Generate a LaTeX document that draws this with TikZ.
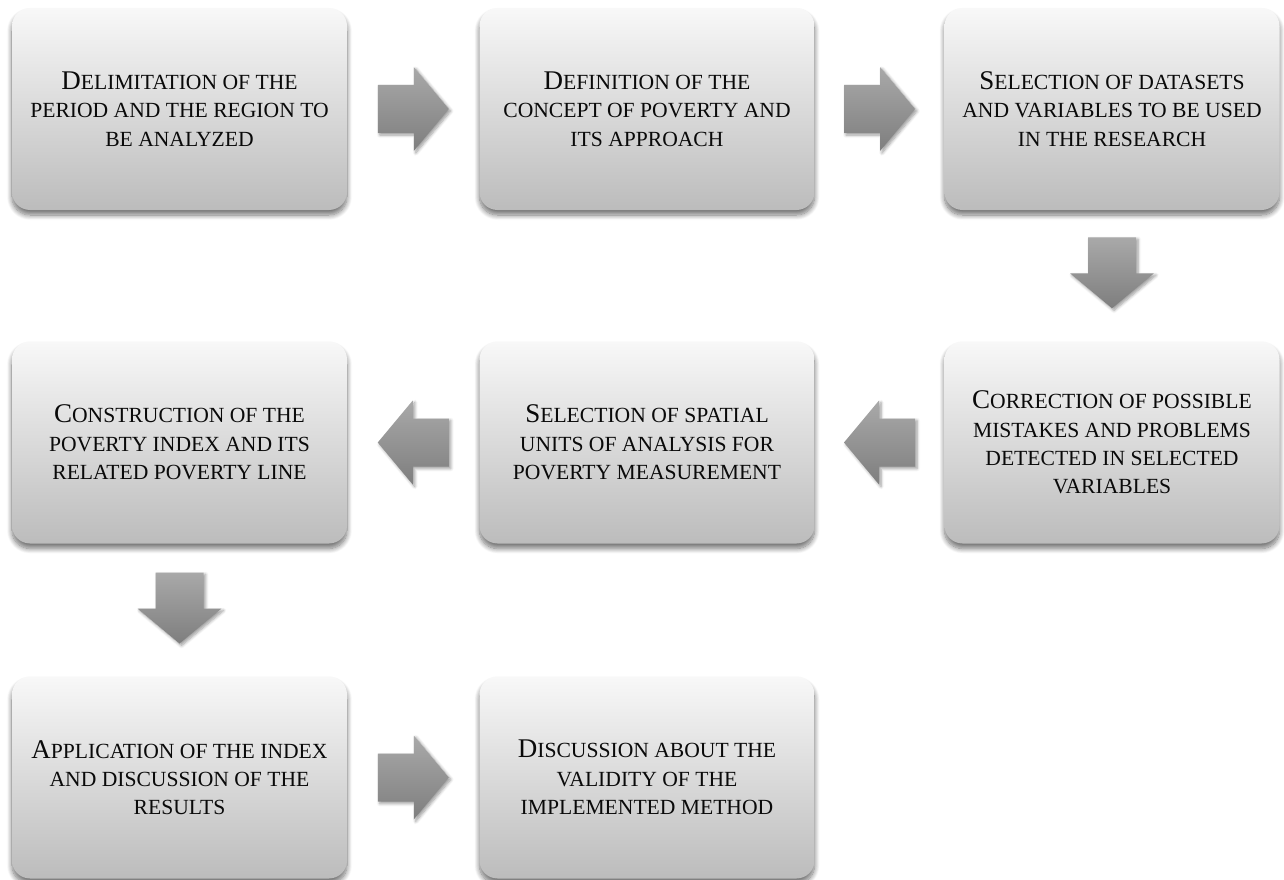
\documentclass[tikz,border=0pt]{standalone}
\usepackage{fontspec}
\setmainfont{Liberation Serif}
\usetikzlibrary{shadows.blur,calc}
\definecolor{boxtop}{HTML}{F8F8F8}
\definecolor{boxbot}{HTML}{BCBCBC}
\definecolor{arrtop}{HTML}{A9A9A9}
\definecolor{arrbot}{HTML}{7E7E7E}
\definecolor{txt}{HTML}{0A0A0A}
\newcommand\Bg[1]{{\fontsize{27}{28.3}\selectfont #1}}
\newcommand\Sm[1]{{\fontsize{21.6}{28.3}\selectfont #1}}
\tikzset{
  stepbox/.style={rounded corners=18pt, minimum width=335pt, minimum height=202pt,
    inner sep=0pt, top color=boxtop, bottom color=boxbot, draw=none,
    align=center, text=txt, font=\fontsize{21.6}{28.3}\selectfont,
    blur shadow={shadow xshift=0pt, shadow yshift=-5pt, shadow blur radius=5pt, shadow blur steps=10, shadow opacity=55}},
  blockarrow/.style={top color=arrtop, bottom color=arrbot, draw=none,
    blur shadow={shadow xshift=2pt, shadow yshift=-2pt, shadow blur radius=3pt, shadow blur steps=6, shadow opacity=40}}
}
\newcommand\RightArrow[1]{\path[blockarrow, shift={(#1)}] (-35.5,-24) -- (0.5,-24) -- (0.5,-42) -- (35.5,0) -- (0.5,42) -- (0.5,24) -- (-35.5,24) -- cycle;}
\newcommand\LeftArrow[1]{\path[blockarrow, shift={(#1)}] (35.5,-24) -- (-0.5,-24) -- (-0.5,-42) -- (-35.5,0) -- (-0.5,42) -- (-0.5,24) -- (35.5,24) -- cycle;}
\newcommand\DownArrow[1]{\path[blockarrow, shift={(#1)}] (-24,-35.5) -- (-24,0.5) -- (-42,0.5) -- (0,35.5) -- (42,0.5) -- (24,0.5) -- (24,-35.5) -- cycle;}
\begin{document}
\begin{tikzpicture}[x=1pt,y=-1pt]
\useasboundingbox (0,0) rectangle (1284,880);
\node[stepbox] (b1) at (179.5,109) {\Bg{D}\Sm{ELIMITATION OF THE}\\\Sm{PERIOD AND THE REGION TO}\\\Sm{BE ANALYZED}};
\node[stepbox] (b2) at (647,109) {\Bg{D}\Sm{EFINITION OF THE}\\\Sm{CONCEPT OF POVERTY AND}\\\Sm{ITS APPROACH}};
\node[stepbox] (b3) at (1112,109) {\Bg{S}\Sm{ELECTION OF DATASETS}\\\Sm{AND VARIABLES TO BE USED}\\\Sm{IN THE RESEARCH}};
\node[stepbox] (b4) at (1112,442.5) {\Bg{C}\Sm{ORRECTION OF POSSIBLE}\\\Sm{MISTAKES AND PROBLEMS}\\\Sm{DETECTED IN SELECTED}\\\Sm{VARIABLES}};
\node[stepbox] (b5) at (647,442.5) {\Bg{S}\Sm{ELECTION OF SPATIAL}\\\Sm{UNITS OF ANALYSIS FOR}\\\Sm{POVERTY MEASUREMENT}};
\node[stepbox] (b6) at (179.5,442.5) {\Bg{C}\Sm{ONSTRUCTION OF THE}\\\Sm{POVERTY INDEX AND ITS}\\\Sm{RELATED POVERTY LINE}};
\node[stepbox] (b7) at (179.5,777.5) {\Bg{A}\Sm{PPLICATION OF THE INDEX}\\\Sm{AND DISCUSSION OF THE}\\\Sm{RESULTS}};
\node[stepbox] (b8) at (647,777.5) {\Bg{D}\Sm{ISCUSSION ABOUT THE}\\\Sm{VALIDITY OF THE}\\\Sm{IMPLEMENTED METHOD}};
\coordinate (a1) at ($(b1.east)!0.5!(b2.west)$);
\coordinate (a2) at ($(b2.east)!0.5!(b3.west)$);
\coordinate (a3) at ($(b3.south)!0.5!(b4.north)+(0,-3)$);
\coordinate (a4) at ($(b4.west)!0.5!(b5.east)$);
\coordinate (a5) at ($(b5.west)!0.5!(b6.east)$);
\coordinate (a6) at ($(b6.south)!0.5!(b7.north)+(0,-2)$);
\coordinate (a7) at ($(b7.east)!0.5!(b8.west)$);
\RightArrow{a1}
\RightArrow{a2}
\DownArrow{a3}
\LeftArrow{a4}
\LeftArrow{a5}
\DownArrow{a6}
\RightArrow{a7}
\end{tikzpicture}
\end{document}
